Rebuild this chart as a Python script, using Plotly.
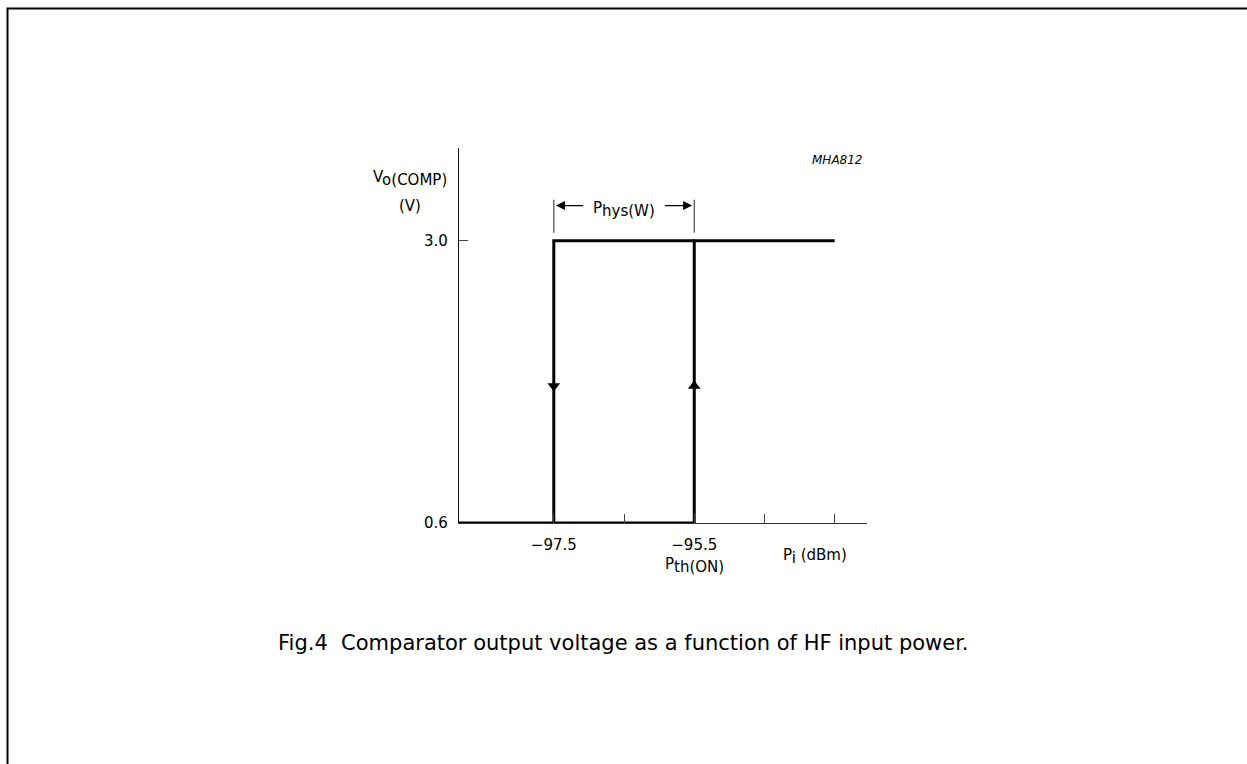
import plotly.graph_objects as go

# ---- data ----
p_axis_min = -98.85
p_axis_max = -93.04
p_switch_off = -97.5      # falling threshold
p_switch_on = -95.5       # P_th(ON)
p_end = -93.5
v_low = 0.6
v_high = 3.0
v_axis_max = 3.79
v_arrow = 1.766
x_tick_vals = [-97.5, -96.5, -95.5, -94.5, -93.5]
x_tick_text = ["\u221297.5", "", "\u221295.5", "", ""]
y_tick_vals = [0.6, 3.0]
y_tick_text = ["0.6", "3.0"]

W, H = 1247, 764
L, R, T, B = 459, 867, 148, 523
FAM = "DejaVu Sans, Liberation Sans, Arial"


def xp(px):
    return (px - L) / (R - L)


def yp(py):
    return (B - py) / (B - T)


fig = go.Figure()

# hysteresis loop
fig.add_trace(go.Scatter(
    x=[p_axis_min, p_switch_on, p_switch_on, p_end, None, p_switch_off, p_switch_off, p_switch_on],
    y=[v_low, v_low, v_high, v_high, None, v_low, v_high, v_high],
    mode="lines", line=dict(color="black", width=3), cliponaxis=False,
    hoverinfo="skip", showlegend=False))

# direction arrows
fig.add_trace(go.Scatter(
    x=[p_switch_off, p_switch_on], y=[v_arrow, v_arrow], mode="markers",
    marker=dict(symbol=["triangle-down", "triangle-up"], size=11, color="black"),
    cliponaxis=False, hoverinfo="skip", showlegend=False))

tickfont = dict(family=FAM, size=15, color="black")
fig.update_xaxes(range=[p_axis_min, p_axis_max], showline=True, linecolor="#333", linewidth=1.3,
                 ticks="inside", ticklen=9, tickcolor="#444", tickwidth=1.2,
                 tickvals=x_tick_vals, ticktext=x_tick_text, showgrid=False, zeroline=False,
                 tickfont=tickfont, ticklabelstandoff=8)
fig.update_yaxes(range=[v_low, v_axis_max], showline=True, linecolor="#111", linewidth=1.3,
                 ticks="inside", ticklen=9, tickcolor="#444", tickwidth=1.2,
                 tickvals=y_tick_vals, ticktext=y_tick_text, showgrid=False, zeroline=False,
                 tickfont=tickfont, ticklabelstandoff=7)

font = dict(family=FAM, size=15, color="black")
ann = []
ann.append(dict(xref="paper", yref="paper", x=xp(410), y=yp(178),
                text="V<sub><span style='font-size:15px'>o(COMP)</span></sub>",
                showarrow=False, xanchor="center", yanchor="middle", font=font))
ann.append(dict(xref="paper", yref="paper", x=xp(410), y=yp(206), text="(V)",
                showarrow=False, xanchor="center", yanchor="middle", font=font))
ann.append(dict(xref="paper", yref="paper", x=xp(694), y=yp(565),
                text="P<sub><span style='font-size:15px'>th(ON)</span></sub>",
                showarrow=False, xanchor="center", yanchor="middle", font=font))
ann.append(dict(xref="paper", yref="paper", x=xp(815), y=yp(556),
                text="P<sub><span style='font-size:15px'>i</span></sub> (dBm)",
                showarrow=False, xanchor="center", yanchor="middle", font=font))
ann.append(dict(xref="paper", yref="paper", x=xp(837), y=yp(160), text="<i>MHA812</i>",
                showarrow=False, xanchor="center", yanchor="middle",
                font=dict(family=FAM, size=12, color="black")))
ann.append(dict(xref="paper", yref="paper", x=xp(624), y=yp(209),
                text="P<sub><span style='font-size:15px'>hys(W)</span></sub>",
                showarrow=False, xanchor="center", yanchor="middle", font=font))
# hysteresis width arrows
for tail, head in [(-97.06, -97.47), (-95.94, -95.53)]:
    ann.append(dict(xref="x", yref="y", axref="x", ayref="y", x=head, y=3.30, ax=tail, ay=3.30,
                    text="", showarrow=True, arrowhead=2, arrowsize=1.5, arrowwidth=1.2,
                    arrowcolor="black"))
ann.append(dict(xref="paper", yref="paper", x=xp(623), y=yp(643),
                text="Fig.4  Comparator output voltage as a function of HF input power.",
                showarrow=False, xanchor="center", yanchor="middle",
                font=dict(family=FAM, size=21, color="black")))

shapes = []
for px_ in (p_switch_off, p_switch_on):
    shapes.append(dict(type="line", xref="x", yref="y", x0=px_, x1=px_, y0=3.068, y1=3.349,
                       line=dict(color="#444", width=1.2)))
# page frame
shapes.append(dict(type="path", xref="paper", yref="paper",
                   path=f"M {xp(7.5)} {yp(800)} L {xp(7.5)} {yp(8.5)} L {xp(1290)} {yp(8.5)}",
                   line=dict(color="black", width=2)))

fig.update_layout(width=W, height=H, margin=dict(l=L, r=W - R, t=T, b=H - B, pad=0),
                  paper_bgcolor="white", plot_bgcolor="white",
                  annotations=ann, shapes=shapes, showlegend=False)

fig.write_html("out.html", config={"displayModeBar": False},
               post_script="document.body.style.margin='0';document.body.style.overflow='hidden';")
